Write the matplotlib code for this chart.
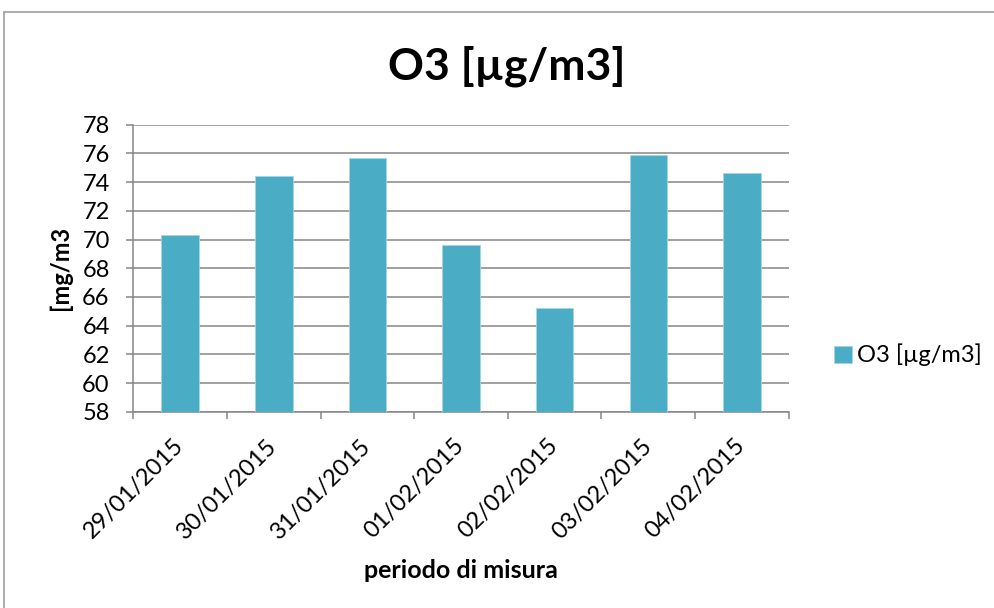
import matplotlib
matplotlib.use("Agg")
import matplotlib.pyplot as plt
from matplotlib.lines import Line2D
import numpy as np

plt.rcParams['font.family'] = ['Lato', 'DejaVu Sans']

dates = ["29/01/2015", "30/01/2015", "31/01/2015", "01/02/2015",
         "02/02/2015", "03/02/2015", "04/02/2015"]
o3_values = [70.3, 74.4, 75.7, 69.6, 65.2, 75.9, 74.6]
y_ticks = list(range(58, 79, 2))

title_text = "O3 [µg/m3]"
series_name = "O3 [µg/m3]"
y_label = "[mg/m3"
x_label = "periodo di misura"

bar_color = "#4BACC6"
grid_color = "#868686"

fig = plt.figure(figsize=(9.95, 6.08), dpi=100)
ax = fig.add_axes([0.134, 0.3224, 0.6587, 0.4728])

x = np.arange(len(dates))
ax.bar(x, o3_values, width=0.4, color=bar_color, edgecolor="#A5D5E2",
       linewidth=0.6, label=series_name, zorder=3)

ax.set_xlim(-0.5, len(dates) - 0.5)
ax.set_ylim(58, 78)
ax.set_yticks(y_ticks)
ax.yaxis.grid(True, color=grid_color, linewidth=1.1, zorder=0)
ax.set_axisbelow(True)

ax.set_xticks(x)
ax.set_xticklabels(dates, rotation=45, ha='right', va='center',
                   rotation_mode='anchor', fontsize=17)
ax.tick_params(axis='x', which='major', length=0, pad=22)
ax.set_xticks(np.arange(-0.5, len(dates), 1.0), minor=True)
ax.tick_params(axis='x', which='minor', length=5, width=1.1, color=grid_color, direction='out')
ax.tick_params(axis='y', length=5, width=1.1, color=grid_color, direction='out',
               labelsize=17, pad=12)

for side in ['top', 'right']:
    ax.spines[side].set_visible(False)
for side in ['left', 'bottom']:
    ax.spines[side].set_color(grid_color)
    ax.spines[side].set_linewidth(1.1)

fig.text(0.509, 0.8696, title_text, ha='center', va='baseline',
         fontsize=32, fontweight='bold')
ax.set_ylabel(y_label, fontsize=17, fontweight='bold')
ax.yaxis.set_label_coords(-0.094, 0.5)
fig.text(0.463, 0.0493, x_label, ha='center', va='baseline',
         fontsize=18, fontweight='bold')

leg = fig.legend(loc='center left', bbox_to_anchor=(0.817, 0.416), frameon=False,
                 fontsize=17, handlelength=0.75, handleheight=0.75, handletextpad=0.2)

# outer chart frame (top and left edges visible)
fig.add_artist(Line2D([0.0045, 1.0], [0.9803, 0.9803], color="#A0A0A0", linewidth=1.2,
                      transform=fig.transFigure))
fig.add_artist(Line2D([0.0045, 0.0045], [0.0, 0.9803], color="#A0A0A0", linewidth=1.2,
                      transform=fig.transFigure))

fig.savefig("out.png", dpi=100, facecolor='white')
